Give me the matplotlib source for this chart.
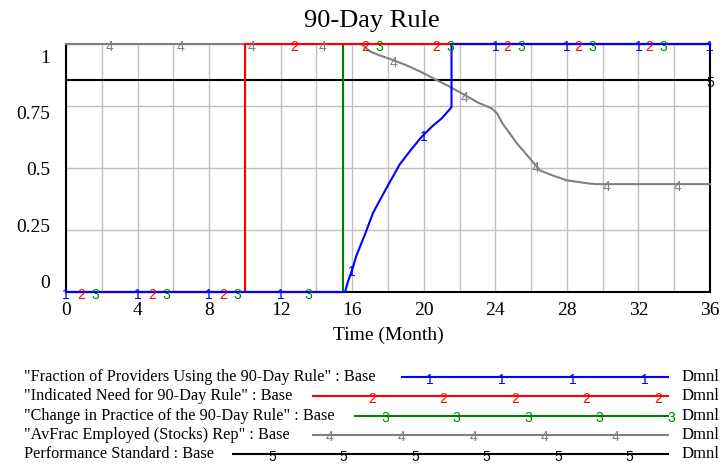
import matplotlib
matplotlib.use('Agg')
import matplotlib.pyplot as plt
from matplotlib.lines import Line2D
import numpy as np

plt.rcParams['font.family'] = ['Liberation Serif', 'DejaVu Serif']

# data
months = [0, 36]
x_ticks = [0, 4, 8, 12, 16, 20, 24, 28, 32, 36]
y_ticks = [0, 0.25, 0.5, 0.75, 1]
y_tick_labels = ['0', '0.25', '0.5', '0.75', '1']

t_fraction = [0, 15.6, 15.75, 16.0, 16.24, 16.7, 17.17, 17.92, 18.66, 19.3,
              19.87, 20.5, 21.0, 21.55, 21.55, 36]
v_fraction = [0, 0, 0.04, 0.09, 0.148, 0.23, 0.32, 0.42, 0.515, 0.575,
              0.625, 0.67, 0.70, 0.745, 1, 1]

t_need = [0, 10, 10, 36]
v_need = [0, 0, 1, 1]

t_change = [0, 15.5, 15.5, 36]
v_change = [0, 0, 1, 1]

t_avfrac = [0, 16.5, 17.0, 17.5, 18.1, 19.0, 19.8, 20.7, 21.45, 22.4, 23.0,
            23.8, 24.1, 24.4, 25.2, 26.1, 26.5, 27.2, 28.0, 29.3, 29.6, 36]
v_avfrac = [1, 1, 0.97, 0.955, 0.94, 0.915, 0.889, 0.855, 0.828, 0.79, 0.765,
            0.74, 0.72, 0.68, 0.60, 0.524, 0.49, 0.47, 0.45, 0.437, 0.435, 0.435]

t_standard = [0, 36]
v_standard = [0.855, 0.855]

series_names = ['"Fraction of Providers Using the 90-Day Rule" : Base',
                '"Indicated Need for 90-Day Rule" : Base',
                '"Change in Practice of the 90-Day Rule" : Base',
                '"AvFrac Employed (Stocks) Rep" : Base',
                'Performance Standard : Base']
units = ['Dmnl', 'Dmnl', 'Dmnl', 'Dmnl', 'Dmnl']

colors = ['#0000ff', '#ff0000', '#008000', '#808080', '#000000']
series = [(t_fraction, v_fraction), (t_need, v_need), (t_change, v_change),
          (t_avfrac, v_avfrac), (t_standard, v_standard)]
# where vensim puts the numbered markers along each line (month offset)
mark_start = [0, 0.85, 1.65, 2.45, 36]

W, H = 721, 465
fig = plt.figure(figsize=(W / 100, H / 100), dpi=100)
ax = fig.add_axes([66 / W, 1 - 292 / H, 644 / W, 248 / H])

sans = ['Liberation Sans', 'DejaVu Sans']


def put_mark(x, y, s, c, trans):
    ax.annotate(s, (x, y), xycoords=trans, xytext=(0, -2), textcoords='offset points',
                ha='center', va='center', color=c, fontsize=10, family=sans,
                annotation_clip=False, zorder=10)


# draw back to front: standard, avfrac, change, need, fraction
for i in [4, 3, 2, 1, 0]:
    t, v = series[i]
    ax.plot(t, v, color=colors[i], lw=1.5, clip_on=False, zorder=3 + (4 - i))
    mt = np.arange(mark_start[i], 36.01, 3.97) if i != 0 else np.arange(0, 36.01, 4)
    for m in mt:
        put_mark(m, np.interp(m, t, v), str(i + 1), colors[i], ax.transData)

ax.set_xlim(months)
ax.set_ylim(0, 1)
ax.set_xticks(x_ticks)
ax.set_xticks(np.arange(0, 37, 2), minor=True)
ax.set_yticks(y_ticks)
ax.set_yticklabels([])
ax.tick_params(which='both', length=0)
ax.tick_params(axis='x', labelsize=14, pad=7)
ax.grid(which='both', color='#c0c0c0', lw=1.0, zorder=0)
ax.set_axisbelow(True)
for side in ['left', 'bottom', 'right']:
    ax.spines[side].set_linewidth(1.5)
    ax.spines[side].set_color('black')
ax.spines['top'].set_visible(False)

# vensim spreads the y labels a bit tighter than the grid
for val, lab in zip(y_ticks, y_tick_labels):
    ax.text(-16 / 644, 0.036 + 0.904 * val, lab, transform=ax.transAxes,
            ha='right', va='center', fontsize=14)

ax.set_xlabel('Time (Month)', fontsize=14, labelpad=6)
fig.text(372 / W, 1 - 27 / H, '90-Day Rule', ha='center', va='baseline', fontsize=19)

# legend block under the chart
row_y = [377, 396.3, 415.6, 434.9, 454.2]
line_x0 = [402, 313, 355, 313, 233]
mark_x0 = [430, 372, 385, 330, 272]
mark_x1 = [650, 665, 678, 620, 635]
for i in range(5):
    yy = 1 - row_y[i] / H
    fig.text(24 / W, yy, series_names[i], ha='left', va='center', fontsize=11.7)
    fig.add_artist(Line2D([line_x0[i] / W, 668 / W], [yy, yy], color=colors[i], lw=1.5,
                          transform=fig.transFigure))
    for px in np.arange(mark_x0[i], mark_x1[i], 71.5):
        fig.text(px / W, yy - 2.5 / H, str(i + 1), ha='center', va='center',
                 color=colors[i], fontsize=10, family=sans)
    fig.text(682 / W, yy, units[i], ha='left', va='center', fontsize=12)

fig.savefig('out.png', dpi=100)
